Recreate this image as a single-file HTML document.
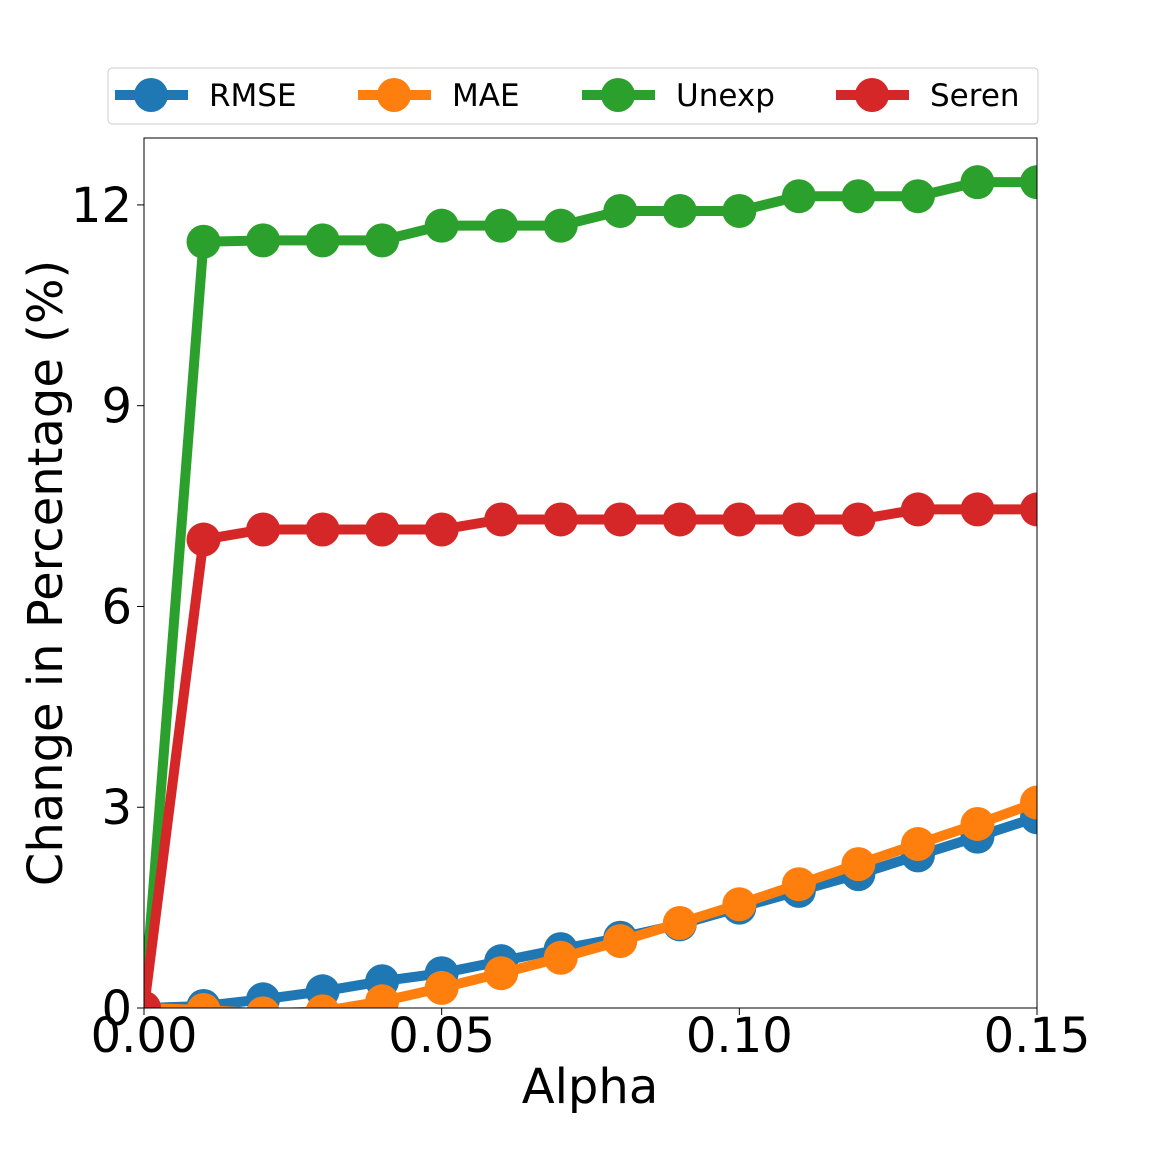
<!DOCTYPE html>
<html><head><meta charset="utf-8"><style>
body{margin:0;background:#fff;}
svg{display:block;font-family:"DejaVu Sans","Liberation Sans",sans-serif;}
</style></head><body>
<svg id="chart" width="1152" height="1152">
<defs><clipPath id="clip"><rect x="144" y="138" width="893" height="870"/></clipPath></defs>
<rect x="0" y="0" width="1152" height="1152" fill="#fff"/>
<g id="series" clip-path="url(#clip)"></g>
<rect x="144" y="138" width="893" height="870" fill="none" stroke="#000" stroke-width="1"/>
<g id="ticks"></g>
<text x="590" y="1103" font-size="48" text-anchor="middle">Alpha</text>
<text transform="translate(62,573) rotate(-90)" font-size="48" text-anchor="middle">Change in Percentage (%)</text>
<g id="legend">
<rect x="108" y="68" width="930" height="56" rx="4" fill="#fff" stroke="#ccc" stroke-width="1"/>
</g>
</svg>
<script>
const alphas=[0,0.01,0.02,0.03,0.04,0.05,0.06,0.07,0.08,0.09,0.10,0.11,0.12,0.13,0.14,0.15];
const rmse=[0,0.03,0.13,0.25,0.4,0.52,0.7,0.88,1.05,1.25,1.5,1.75,2.0,2.28,2.56,2.85];
const mae=[0,-0.03,-0.08,-0.05,0.1,0.3,0.52,0.75,1.0,1.27,1.55,1.85,2.15,2.45,2.75,3.07];
const unexp=[0,11.45,11.47,11.47,11.47,11.69,11.69,11.69,11.91,11.91,11.91,12.13,12.13,12.13,12.34,12.34];
const seren=[0,7.0,7.15,7.15,7.15,7.15,7.3,7.3,7.3,7.3,7.3,7.3,7.3,7.45,7.45,7.45];
const xTicks=[0,0.05,0.10,0.15];
const xTickLabels=["0.00","0.05","0.10","0.15"];
const yTicks=[0,3,6,9,12];
const seriesNames=["RMSE","MAE","Unexp","Seren"];
const NS="http://www.w3.org/2000/svg";
const X=v=>144+(v-0)/(0.15)*893;
const Y=v=>1008-(v/13)*870;
const colors=["#1f77b4","#ff7f0e","#2ca02c","#d62728"];
const data=[rmse,mae,unexp,seren];
const g=document.getElementById('series');
data.forEach((s,i)=>{
  const p=document.createElementNS(NS,'polyline');
  p.setAttribute('points',s.map((v,j)=>X(alphas[j])+','+Y(v)).join(' '));
  p.setAttribute('fill','none');p.setAttribute('stroke',colors[i]);p.setAttribute('stroke-width','10');
  
  
  g.appendChild(p);
  s.forEach((v,j)=>{
    const c=document.createElementNS(NS,'circle');
    c.setAttribute('cx',X(alphas[j]));c.setAttribute('cy',Y(v));c.setAttribute('r','17');c.setAttribute('fill',colors[i]);
    
    
    g.appendChild(c);
  });
});
const t=document.getElementById('ticks');
xTicks.forEach((v,i)=>{
  const l=document.createElementNS(NS,'line');
  l.setAttribute('x1',X(v));l.setAttribute('x2',X(v));l.setAttribute('y1',1008);l.setAttribute('y2',1015);l.setAttribute('stroke','#000');
  
  
  t.appendChild(l);
  const tx=document.createElementNS(NS,'text');
  tx.setAttribute('x',X(v));tx.setAttribute('y',1052);tx.setAttribute('font-size','48');tx.setAttribute('text-anchor','middle');
  tx.textContent=xTickLabels[i];
  
  
  t.appendChild(tx);
});
yTicks.forEach(v=>{
  const l=document.createElementNS(NS,'line');
  l.setAttribute('x1',137);l.setAttribute('x2',144);l.setAttribute('y1',Y(v));l.setAttribute('y2',Y(v));l.setAttribute('stroke','#000');
  
  
  t.appendChild(l);
  const tx=document.createElementNS(NS,'text');
  tx.setAttribute('x',132);tx.setAttribute('y',Y(v)+17);tx.setAttribute('font-size','48');tx.setAttribute('text-anchor','end');
  tx.textContent=String(v);
  
  
  t.appendChild(tx);
});
const lg=document.getElementById('legend');
const lx=[115,358,582,836];
seriesNames.forEach((n,i)=>{
  const l=document.createElementNS(NS,'line');
  l.setAttribute('x1',lx[i]);l.setAttribute('x2',lx[i]+73);l.setAttribute('y1',95);l.setAttribute('y2',95);
  l.setAttribute('stroke',colors[i]);l.setAttribute('stroke-width','10');
  
  
  lg.appendChild(l);
  const c=document.createElementNS(NS,'circle');
  c.setAttribute('cx',lx[i]+36);c.setAttribute('cy',95);c.setAttribute('r','17');c.setAttribute('fill',colors[i]);
  
  
  lg.appendChild(c);
  const tx=document.createElementNS(NS,'text');
  tx.setAttribute('x',lx[i]+94);tx.setAttribute('y',106);tx.setAttribute('font-size','31');
  tx.textContent=n;
  
  
  lg.appendChild(tx);
});
</script>
</body></html>
